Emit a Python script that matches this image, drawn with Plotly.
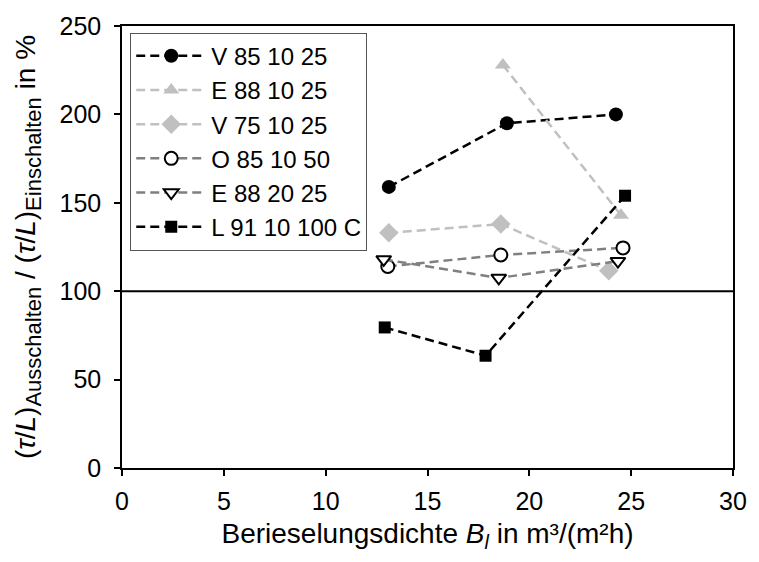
import plotly.graph_objects as go

# Berieselungsdichte (x) and ratio in % (y) for each configuration
names = ["V 85 10 25", "E 88 10 25", "V 75 10 25", "O 85 10 50", "E 88 20 25", "L 91 10 100 C"]

x_v85 = [13.1, 18.9, 24.25]
y_v85 = [159, 195, 200]

x_e88_10 = [18.7, 24.5]
y_e88_10 = [228, 143]

x_v75 = [13.1, 18.6, 23.9]
y_v75 = [133, 138, 111.5]

x_o85 = [13.05, 18.6, 24.6]
y_o85 = [114, 120.5, 124.5]

x_e88_20 = [12.85, 18.5, 24.35]
y_e88_20 = [118, 107.5, 117]

x_l91 = [12.9, 17.85, 24.7]
y_l91 = [79.5, 63.5, 154]

reference_level = 100

series = [
    (x_v85, y_v85, "#000000", dict(symbol="circle", size=14, color="#000000")),
    (x_e88_10, y_e88_10, "#c0c0c0", dict(symbol="triangle-up", size=14, color="#c0c0c0")),
    (x_v75, y_v75, "#c0c0c0", dict(symbol="diamond", size=15, color="#c0c0c0")),
    (x_o85, y_o85, "#808080", dict(symbol="circle", size=13, color="#ffffff",
                                   line=dict(color="#000000", width=2))),
    (x_e88_20, y_e88_20, "#808080", dict(symbol="triangle-down", size=13, color="#ffffff",
                                         line=dict(color="#000000", width=2))),
    (x_l91, y_l91, "#000000", dict(symbol="square", size=12, color="#000000")),
]

fig = go.Figure()
for name, (xs, ys, lc, mk) in zip(names, series):
    fig.add_trace(go.Scatter(
        x=xs, y=ys, name=name, mode="lines+markers",
        line=dict(color=lc, width=2.5, dash="9px,5px"),
        marker=mk,
    ))

fig.add_shape(type="line", xref="x", yref="y", x0=0, x1=30,
              y0=reference_level, y1=reference_level,
              line=dict(color="#000000", width=2), layer="below")

font_family = "Liberation Sans, Arial, sans-serif"
sub_style = "font-size:22px"

fig.update_layout(
    width=759, height=562,
    margin=dict(l=122, r=16, t=20, b=94),
    paper_bgcolor="#ffffff", plot_bgcolor="#ffffff",
    font=dict(family=font_family, size=25, color="#000000"),
    showlegend=True,
    legend=dict(
        x=0.0135, y=0.985, xanchor="left", yanchor="top",
        bgcolor="#ffffff", bordercolor="#555555", borderwidth=1,
        font=dict(size=24), tracegroupgap=0,
        itemwidth=70,
    ),
    xaxis=dict(
        range=[0, 30], dtick=5, tick0=0,
        showgrid=False, zeroline=False,
        showline=True, linecolor="#000000", linewidth=1.5, mirror=True,
        ticks="outside", ticklen=6, tickcolor="#000000", tickwidth=1.5,
        ticklabelstandoff=4,
        title=dict(
            text="Berieselungsdichte <i>B</i><sub><i>l</i></sub> in m³/(m²h)",
            font=dict(size=28), standoff=10,
        ),
    ),
    yaxis=dict(
        range=[0, 250], dtick=50, tick0=0,
        showgrid=False, zeroline=False,
        showline=True, linecolor="#000000", linewidth=1.5, mirror=True,
        ticks="outside", ticklen=6, tickcolor="#000000", tickwidth=1.5,
        ticklabelstandoff=8,
        title=dict(
            text=("(<i>τ</i>/<i>L</i>)<sub><span style='" + sub_style + "'>Ausschalten</span></sub>"
                  " / (<i>τ</i>/<i>L</i>)<sub><span style='" + sub_style + "'>Einschalten</span></sub> in %"),
            font=dict(size=28), standoff=16,
        ),
    ),
)

fig.write_html("out.html")
